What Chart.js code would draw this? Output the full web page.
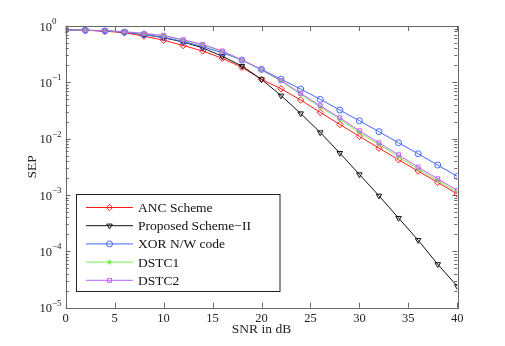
<!DOCTYPE html>
<html lang="en">
<head>
    <meta charset="UTF-8">
    <style>
        html, body { margin: 0; padding: 0; background: #fff; overflow: hidden; }
        #sepChart { display: block; }
    </style>
    <title>SEP vs SNR</title>
</head>
<body>
    <canvas id="sepChart" width="505" height="346"></canvas>
    <script src="https://cdn.jsdelivr.net/npm/chart.js"></script>
    <script>
        const snr = [0, 2, 4, 6, 8, 10, 12, 14, 16, 18, 20, 22, 24, 26, 28, 30, 32, 34, 36, 38, 40];
        const xTicks = [0, 5, 10, 15, 20, 25, 30, 35, 40];
        const yExponents = [0, -1, -2, -3, -4, -5];

        const ancScheme = [0.85, 0.84, 0.81, 0.76, 0.66, 0.56, 0.45, 0.36, 0.267, 0.185, 0.113, 0.077, 0.0485, 0.0293, 0.0179, 0.011, 0.0068, 0.00422, 0.00266, 0.00167, 0.00104];
        const proposedII = [0.85, 0.84, 0.82, 0.78, 0.71, 0.62, 0.52, 0.41, 0.29, 0.195, 0.113, 0.058, 0.028, 0.0129, 0.00555, 0.00232, 0.00097, 0.00039, 0.000158, 0.000059, 0.000024];
        const xorCode = [0.85, 0.84, 0.82, 0.78, 0.70, 0.63, 0.53, 0.43, 0.335, 0.249, 0.17, 0.114, 0.076, 0.0499, 0.0322, 0.0208, 0.0133, 0.00846, 0.0054, 0.0034, 0.00214];
        const dstc1 = [0.85, 0.84, 0.83, 0.79, 0.73, 0.67, 0.56, 0.46, 0.355, 0.247, 0.165, 0.105, 0.061, 0.0365, 0.022, 0.0129, 0.0079, 0.0048, 0.0029, 0.0018, 0.00112];
        const dstc2 = [0.85, 0.84, 0.83, 0.79, 0.74, 0.68, 0.57, 0.47, 0.36, 0.25, 0.167, 0.108, 0.0637, 0.0384, 0.0235, 0.0138, 0.00846, 0.00518, 0.00313, 0.00194, 0.00121];

        const serif = '"Liberation Serif", "DejaVu Serif", serif';

        function series(label, values, color, style, radius, rotation, order) {
            return {
                label: label,
                data: snr.map((x, i) => ({ x: x, y: values[i] })),
                borderColor: color,
                backgroundColor: color,
                borderWidth: 1,
                pointStyle: style,
                pointRadius: radius,
                pointRotation: rotation,
                pointBorderColor: color,
                pointBackgroundColor: 'rgba(255,255,255,0)',
                pointBorderWidth: 1,
                tension: 0,
                order: order
            };
        }

        const datasets = [
            series('ANC Scheme', ancScheme, '#ff1a1a', 'rectRot', 3.2, 0, 5),
            series('Proposed Scheme\u2212II', proposedII, '#111111', 'triangle', 3.2, 180, 4),
            series('XOR N/W code', xorCode, '#4466ff', 'circle', 3, 0, 3),
            series('DSTC1', dstc1, '#77ee44', 'star', 2.5, 0, 2),
            series('DSTC2', dstc2, '#c060ff', 'rect', 2.8, 0, 1)
        ];

        // MATLAB-like axes box, inside ticks, labels and legend
        const matlabAxes = {
            id: 'matlabAxes',
            afterDraw(chart) {
                const ctx = chart.ctx;
                const a = chart.chartArea;
                const xs = chart.scales.x;
                const ys = chart.scales.y;
                ctx.save();
                ctx.strokeStyle = '#666';
                ctx.lineWidth = 1;
                ctx.strokeRect(Math.round(a.left) + 0.5, Math.round(a.top) + 0.5,
                    Math.round(a.right - a.left), Math.round(a.bottom - a.top));

                // x ticks
                ctx.beginPath();
                xTicks.forEach(v => {
                    const px = Math.round(xs.getPixelForValue(v)) + 0.5;
                    ctx.moveTo(px, a.bottom); ctx.lineTo(px, a.bottom - 5);
                    ctx.moveTo(px, a.top); ctx.lineTo(px, a.top + 5);
                });
                // y ticks (major + minor)
                yExponents.forEach(e => {
                    for (let m = 1; m <= 9; m++) {
                        const v = m * Math.pow(10, e);
                        if (v > 1 || v < 1e-5) continue;
                        const py = Math.round(ys.getPixelForValue(v)) + 0.5;
                        const len = m === 1 ? 5 : 3;
                        ctx.moveTo(a.left, py); ctx.lineTo(a.left + len, py);
                        ctx.moveTo(a.right, py); ctx.lineTo(a.right - len, py);
                    }
                });
                ctx.stroke();

                // x tick labels
                ctx.fillStyle = '#222';
                ctx.font = '12.5px ' + serif;
                ctx.textAlign = 'center';
                ctx.textBaseline = 'alphabetic';
                xTicks.forEach(v => {
                    ctx.fillText(String(v), xs.getPixelForValue(v), 322);
                });

                // y tick labels 10^e
                yExponents.forEach(e => {
                    const py = ys.getPixelForValue(Math.pow(10, e));
                    const exp = e === 0 ? '0' : '\u2212' + (-e);
                    ctx.font = '9px ' + serif;
                    const ew = ctx.measureText(exp).width;
                    ctx.textAlign = 'left';
                    ctx.fillText(exp, 52, py - 2);
                    ctx.font = '12.5px ' + serif;
                    ctx.textAlign = 'right';
                    ctx.fillText('10', 52, py + 4.5);
                });

                // axis titles
                ctx.font = '13.5px ' + serif;
                ctx.textAlign = 'center';
                ctx.fillText('SNR in dB', (a.left + a.right) / 2, 333);
                ctx.save();
                ctx.translate(36, (a.top + a.bottom) / 2);
                ctx.rotate(-Math.PI / 2);
                ctx.fillText('SEP', 0, 0);
                ctx.restore();

                // legend box
                const lx = 76.5, ly = 194.5, lw = 203.5, lh = 97;
                ctx.fillStyle = '#fff';
                ctx.fillRect(lx, ly, lw, lh);
                ctx.strokeStyle = '#222';
                ctx.strokeRect(lx, ly, lw, lh);
                datasets.forEach((ds, i) => {
                    const yy = 207.5 + i * 18.2;
                    ctx.strokeStyle = ds.borderColor;
                    ctx.lineWidth = 1;
                    ctx.beginPath();
                    ctx.moveTo(86, yy); ctx.lineTo(133, yy);
                    ctx.stroke();
                    ctx.fillStyle = 'rgba(255,255,255,0)';
                    Chart.helpers.drawPoint(ctx, {
                        pointStyle: ds.pointStyle,
                        radius: ds.pointRadius,
                        rotation: ds.pointRotation,
                        borderWidth: 1
                    }, 109.5, yy);
                    ctx.fillStyle = '#111';
                    ctx.font = '13.5px ' + serif;
                    ctx.textAlign = 'left';
                    ctx.fillText(ds.label, 138, yy + 4.5);
                });
                ctx.restore();
            }
        };

        new Chart(document.getElementById('sepChart'), {
            type: 'line',
            data: { datasets: datasets },
            options: {
                responsive: false,
                animation: false,
                events: [],
                layout: { padding: { top: 26, right: 47.7, left: 0, bottom: 0 } },
                plugins: { legend: { display: false }, tooltip: { enabled: false } },
                scales: {
                    x: {
                        type: 'linear', min: 0, max: 40,
                        grid: { display: false }, border: { display: false },
                        ticks: { display: false },
                        afterFit: s => { s.height = 38.3; }
                    },
                    y: {
                        type: 'logarithmic', min: 1e-5, max: 1,
                        grid: { display: false }, border: { display: false },
                        ticks: { display: false },
                        afterFit: s => { s.width = 65.7; }
                    }
                }
            },
            plugins: [matlabAxes]
        });
    </script>
</body>
</html>
